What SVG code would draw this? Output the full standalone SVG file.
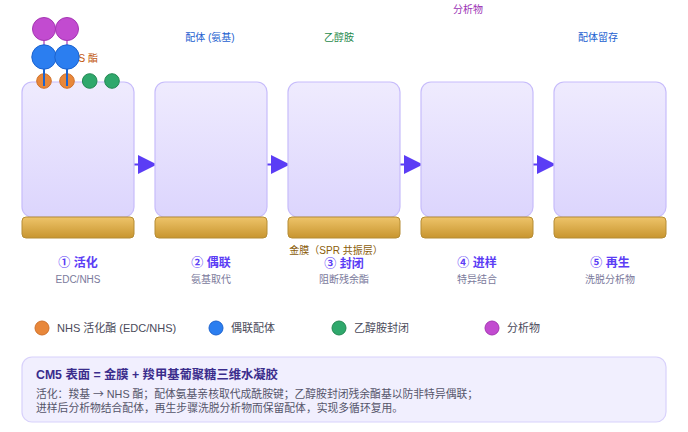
<svg xmlns="http://www.w3.org/2000/svg" width="688" height="432" viewBox="0 0 688 432">
<defs>
<linearGradient id="gPanel" x1="0" y1="0" x2="0" y2="1">
<stop offset="0" stop-color="#efebfe"/>
<stop offset="1" stop-color="#dcd5fd"/>
</linearGradient>
<linearGradient id="gGold" x1="0" y1="0" x2="0" y2="1">
<stop offset="0" stop-color="#eec46a"/>
<stop offset="1" stop-color="#c8952f"/>
</linearGradient>
<style>
text{font-family:"Liberation Sans","Noto Sans CJK SC",sans-serif}
.cjk{font-family:"Noto Sans CJK SC",sans-serif}
.panel{fill:url(#gPanel);stroke:#c7bcfb;stroke-width:1.2}
.gold{fill:url(#gGold);stroke:#b58c34;stroke-width:1}
.title{font-size:12px;font-weight:bold;fill:#5b3df5;text-anchor:middle}
.sub{font-size:10px;fill:#7b7a9c;text-anchor:middle}
.lbl{font-size:10px;text-anchor:middle}
.leg{font-size:11px;fill:#4a4a5a}
.arrow{stroke:#5b3df5;stroke-width:2;fill:none}
.head{fill:#5b3df5}
.or{fill:#e8873a;stroke:#d0712a;stroke-width:1}
.bl{fill:#2b7ef0;stroke:#1c63cf;stroke-width:1}
.gr{fill:#2fa86c;stroke:#228852;stroke-width:1}
.pu{fill:#c24bd0;stroke:#a536b3;stroke-width:1}
</style>
</defs>
<rect width="688" height="432" fill="#ffffff"/>

<g id="connectors">
<line class="arrow" x1="134" y1="164.5" x2="140" y2="164.5"/>
<polygon class="head" points="138,155 157,164.5 138,174"/>
<line class="arrow" x1="267" y1="164.5" x2="273" y2="164.5"/>
<polygon class="head" points="271,155 290,164.5 271,174"/>
<line class="arrow" x1="400" y1="164.5" x2="406" y2="164.5"/>
<polygon class="head" points="404,155 423,164.5 404,174"/>
<line class="arrow" x1="533" y1="164.5" x2="539" y2="164.5"/>
<polygon class="head" points="537,155 556,164.5 537,174"/>
</g>

<g id="step1">
<rect class="panel" x="22" y="82" width="112" height="135" rx="10"/>
<rect class="gold" x="22" y="217" width="112" height="21" rx="4"/>
<text class="title" x="78" y="267">① 活化</text>
<text class="sub" x="78" y="283">EDC/NHS</text>
</g>
<g id="step2">
<rect class="panel" x="155" y="82" width="112" height="135" rx="10"/>
<rect class="gold" x="155" y="217" width="112" height="21" rx="4"/>
<text class="title" x="211" y="267">② 偶联</text>
<text class="sub" x="211" y="283">氨基取代</text>
</g>
<g id="step3">
<rect class="panel" x="288" y="82" width="112" height="135" rx="10"/>
<rect class="gold" x="288" y="217" width="112" height="21" rx="4"/>
<text class="title" x="344" y="268">③ 封闭</text>
<text class="sub" x="344" y="283">阻断残余酯</text>
</g>
<g id="step4">
<rect class="panel" x="421" y="82" width="112" height="135" rx="10"/>
<rect class="gold" x="421" y="217" width="112" height="21" rx="4"/>
<text class="title" x="477" y="267">④ 进样</text>
<text class="sub" x="477" y="283">特异结合</text>
</g>
<g id="step5">
<rect class="panel" x="554" y="82" width="112" height="135" rx="10"/>
<rect class="gold" x="554" y="217" width="112" height="21" rx="4"/>
<text class="title" x="610" y="267">⑤ 再生</text>
<text class="sub" x="610" y="283">洗脱分析物</text>
</g>

<g id="gold-label">
<text class="lbl" x="336" y="254" fill="#8a5c08">金膜（SPR 共振层）</text>
</g>

<g id="top-labels">
<text class="lbl" x="81" y="62" fill="#c2560c">NHS 酯</text>
<text class="lbl" x="210" y="41" fill="#1d5fd0">配体 (氨基)</text>
<text class="lbl" x="339" y="41" fill="#1f8a4c">乙醇胺</text>
<text class="lbl" x="468" y="13" fill="#9b33b5">分析物</text>
<text class="lbl" x="598" y="41" fill="#1d5fd0">配体留存</text>
</g>

<g id="molecules">
<line x1="44" y1="40" x2="44" y2="57" stroke="#a536b3" stroke-width="1.2"/>
<line x1="67" y1="40" x2="67" y2="57" stroke="#a536b3" stroke-width="1.2"/>
<circle class="pu" cx="44" cy="29" r="11.5"/>
<circle class="pu" cx="67" cy="29" r="11.5"/>
<circle class="or" cx="44" cy="81" r="7.3"/>
<circle class="or" cx="67" cy="81" r="7.3"/>
<circle class="gr" cx="89.7" cy="81" r="7.3"/>
<circle class="gr" cx="112" cy="81" r="7.3"/>
<circle class="bl" cx="44" cy="57" r="12.2"/>
<circle class="bl" cx="67" cy="57" r="12.2"/>
<line x1="44" y1="69" x2="44" y2="86" stroke="#1c63cf" stroke-width="2"/>
<line x1="67" y1="69" x2="67" y2="86" stroke="#1c63cf" stroke-width="2"/>
</g>

<g id="legend">
<circle class="or" cx="42" cy="328" r="7"/>
<text class="leg" x="57" y="332">NHS 活化酯 (EDC/NHS)</text>
<circle class="bl" cx="216" cy="328" r="7"/>
<text class="leg" x="231" y="332">偶联配体</text>
<circle class="gr" cx="339" cy="328" r="7"/>
<text class="leg" x="354" y="332">乙醇胺封闭</text>
<circle class="pu" cx="492" cy="328" r="7"/>
<text class="leg" x="507" y="332">分析物</text>
</g>

<g id="note">
<rect x="22" y="357" width="644" height="65" rx="10" fill="#f1effe" stroke="#d8d1fb" stroke-width="1.2"/>
<text x="36" y="379" font-size="12.3" font-weight="bold" fill="#3a2c8c">CM5 表面 = 金膜 + 羧甲基葡聚糖三维水凝胶</text>
<text x="36" y="398" font-size="10.8" fill="#55556a">活化：羧基 <tspan class="cjk">→</tspan> NHS 酯；配体氨基亲核取代成酰胺键；乙醇胺封闭残余酯基以防非特异偶联；</text>
<text x="36" y="412" font-size="10.8" fill="#55556a">进样后分析物结合配体，再生步骤洗脱分析物而保留配体，实现多循环复用。</text>
</g>
</svg>
